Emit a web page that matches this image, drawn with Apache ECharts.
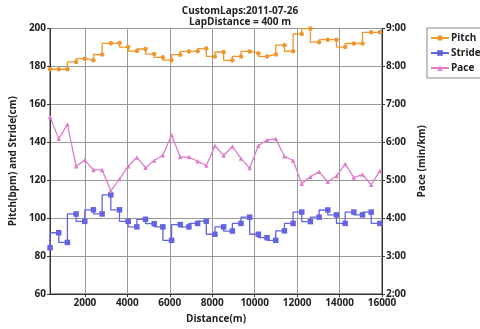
<!DOCTYPE html>
<html><head><meta charset="utf-8">
<script src="https://cdn.jsdelivr.net/npm/echarts@6/dist/echarts.min.js"></script>
<style>html,body{margin:0;padding:0;background:#fff}#c{width:480px;height:329px}</style>
</head><body><div id="c"></div>
<script>
const titleLines = ['CustomLaps:2011-07-26', 'LapDistance = 400 m'];
const distance = [358, 767, 1176, 1585, 1994, 2403, 2812, 3221, 3630, 4039, 4448, 4857, 5266, 5675, 6084, 6493, 6902, 7311, 7720, 8129, 8538, 8947, 9356, 9765, 10174, 10583, 10992, 11401, 11810, 12219, 12628, 13037, 13446, 13855, 14264, 14673, 15082, 15491, 15900];
const pitch = [178.5, 178.5, 178.5, 182.4, 184.1, 183.3, 186.3, 192.2, 192.3, 190.2, 188.1, 189.2, 186.5, 184.8, 183.3, 186.2, 187.9, 188.0, 189.4, 185.3, 187.6, 183.2, 185.3, 187.9, 187.0, 185.3, 186.3, 191.2, 188.0, 197.1, 200.0, 192.8, 194.1, 194.1, 190.2, 192.1, 192.1, 198.0, 198.0];
const stride = [84.4, 92.3, 87.2, 102.2, 98.3, 104.4, 102.2, 112.3, 104.4, 98.3, 95.4, 99.4, 97.1, 95.4, 88.3, 96.6, 95.4, 97.2, 98.4, 91.5, 95.4, 93.2, 97.2, 100.5, 91.5, 89.7, 88.3, 93.3, 97.2, 103.2, 98.2, 100.5, 104.3, 101.7, 97.2, 103.2, 101.7, 103.2, 97.2];
const pace = [6.67, 6.09, 6.47, 5.37, 5.53, 5.27, 5.27, 4.72, 5.03, 5.37, 5.60, 5.33, 5.52, 5.66, 6.19, 5.61, 5.61, 5.50, 5.39, 5.91, 5.65, 5.89, 5.57, 5.32, 5.91, 6.06, 6.09, 5.63, 5.52, 4.91, 5.09, 5.22, 4.96, 5.11, 5.43, 5.07, 5.15, 4.88, 5.24];
const xTicks = [2000, 4000, 6000, 8000, 10000, 12000, 14000, 16000];
const leftTicks = [60, 80, 100, 120, 140, 160, 180, 200];
const paceTicks = ['2:00', '3:00', '4:00', '5:00', '6:00', '7:00', '8:00', '9:00'];
const seriesNames = ['Pitch', 'Stride', 'Pace'];

const FONT = 'Open Sans';
const pair = (xs, ys) => xs.map((x, i) => [x, ys[i]]);
const chart = echarts.init(document.getElementById('c'), null, {renderer: 'canvas'});
chart.setOption({
  animation: false,
  textStyle: {fontFamily: FONT},
  title: {
    text: titleLines.join('\n'), left: 'center', top: 1, itemGap: 0,
    textStyle: {fontSize: 10, fontWeight: 'bold', color: '#222', lineHeight: 11, fontFamily: FONT}
  },
  legend: {
    orient: 'vertical', left: 427, top: 28, data: seriesNames,
    itemWidth: 18, itemHeight: 7, itemGap: 5, padding: [5, 4, 5, 3],
    borderColor: '#888', borderWidth: 1, backgroundColor: '#fff',
    textStyle: {fontSize: 10, fontWeight: 'bold', color: '#222', padding: [0, 0, 0, -3]}
  },
  grid: {left: 43, right: 98, top: 28.5, bottom: 31, show: true, borderColor: '#333', borderWidth: 1},
  xAxis: {
    type: 'value', min: distance[0], max: xTicks[xTicks.length - 1],
    name: 'Distance(m)', nameLocation: 'middle', nameGap: 20,
    nameTextStyle: {fontSize: 10, fontWeight: 'bold', color: '#222'},
    axisLine: {lineStyle: {color: '#333'}},
    axisTick: {show: true, length: 3, customValues: xTicks, lineStyle: {color: '#333'}},
    axisLabel: {customValues: xTicks, fontSize: 10, fontWeight: 'bold', color: '#222', margin: 4,
      formatter: v => String(v)},
    splitLine: {show: true, lineStyle: {color: '#999', width: 1}}
  },
  yAxis: [{
    type: 'value', min: leftTicks[0], max: leftTicks[leftTicks.length - 1], interval: 20,
    name: 'Pitch(bpm) and Stride(cm)', nameLocation: 'middle', nameGap: 29, nameRotate: 90,
    nameTextStyle: {fontSize: 10, fontWeight: 'bold', color: '#222'},
    axisLine: {show: true, lineStyle: {color: '#333'}},
    axisTick: {show: true, length: 3, lineStyle: {color: '#333'}},
    axisLabel: {fontSize: 10, fontWeight: 'bold', color: '#222', margin: 4},
    splitLine: {show: true, lineStyle: {color: '#999', width: 1}}
  }, {
    type: 'value', min: 2, max: 9, interval: 1, position: 'right',
    name: 'Pace (min/km)', nameLocation: 'middle', nameGap: 32, nameRotate: 90,
    nameTextStyle: {fontSize: 10, fontWeight: 'bold', color: '#222'},
    axisLine: {show: true, lineStyle: {color: '#333'}},
    axisTick: {show: true, length: 3, lineStyle: {color: '#333'}},
    axisLabel: {fontSize: 10, fontWeight: 'bold', color: '#222', margin: 4,
      formatter: v => paceTicks[Math.round(v) - 2]},
    splitLine: {show: false}
  }],
  series: [{
    name: seriesNames[0], type: 'line', step: 'start', yAxisIndex: 0,
    data: pair(distance, pitch), symbol: 'circle', symbolSize: 4.5,
    itemStyle: {color: '#f0962f'}, lineStyle: {color: '#f0962f', width: 1.3}
  }, {
    name: seriesNames[1], type: 'line', step: 'start', yAxisIndex: 0,
    data: pair(distance, stride), symbol: 'rect', symbolSize: 5.5,
    itemStyle: {color: '#6464e2'}, lineStyle: {color: '#6464e2', width: 1.3}
  }, {
    name: seriesNames[2], type: 'line', yAxisIndex: 1,
    data: pair(distance, pace), symbol: 'triangle', symbolSize: 4.5,
    itemStyle: {color: '#e07ccc'}, lineStyle: {color: '#e07ccc', width: 1.3}
  }]
});
</script></body></html>
